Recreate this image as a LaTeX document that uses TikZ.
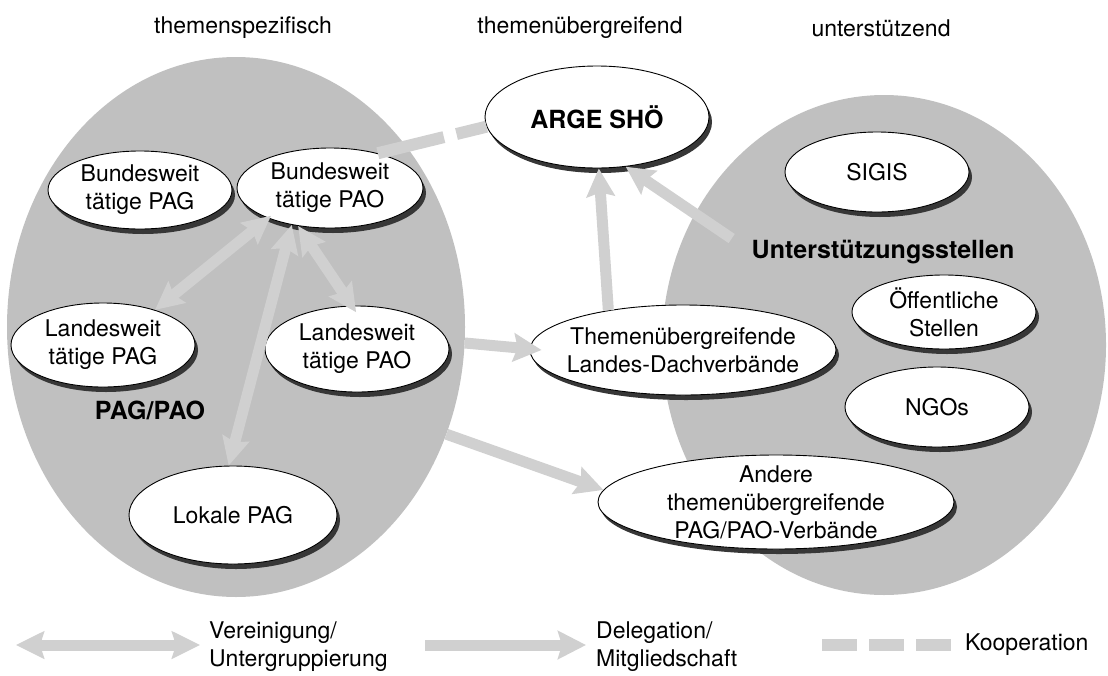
\documentclass[tikz,border=0pt]{standalone}
\usepackage{fontspec}
\setmainfont{TeX Gyre Heros}
\usetikzlibrary{shapes.geometric,arrows.meta,shadows,calc}
\definecolor{bggray}{RGB}{192,192,192}
\definecolor{arrgray}{RGB}{208,208,208}
\definecolor{shadowgray}{RGB}{55,55,55}
\begin{document}
\begin{tikzpicture}[x=1pt,y=-1pt,
  txt/.style={font=\fontsize{23}{28}\selectfont, inner sep=0pt, align=center},
  boldtxt/.style={font=\bfseries\fontsize{25}{30}\selectfont, inner sep=0pt},
  bigell/.style={ellipse, fill=bggray, inner sep=0pt},
  org/.style={ellipse, draw=black, line width=0.9pt, fill=white, inner sep=0pt,
    drop shadow={shadow xshift=3pt, shadow yshift=-5pt, fill=shadowgray, opacity=1}},
  assoc/.style={draw=arrgray, line width=11pt, {Stealth[length=28pt,width=27pt,inset=4pt]}-{Stealth[length=28pt,width=27pt,inset=4pt]}},
  deleg/.style={draw=arrgray, line width=11pt, -{Stealth[length=28pt,width=28pt,inset=4pt]}},
  koop/.style={draw=arrgray, line width=12pt, dash pattern=on 68pt off 13pt on 60pt off 0pt}
]
\useasboundingbox (0,0) rectangle (1108,675);

% headers
\node[txt] (h1) at (243,28) {themenspezifisch};
\node[txt] (h2) at (580,28) {themenübergreifend};
\node[txt] (h3) at (881,28) {unterstützend};

% big grey areas
\node[bigell, minimum width=458pt, minimum height=540pt] (lg) at (236,327) {};
\node[bigell, minimum width=444pt, minimum height=500pt] (rg) at (884,345) {};

% organisation ellipses
\node[org, minimum width=184pt, minimum height=78pt] (bpag) at (140,190) {};
\node[txt] (bpag-t) at (bpag) {Bundesweit\\tätige PAG};
\node[org, minimum width=186pt, minimum height=80pt] (bpao) at (330,188) {};
\node[txt] (bpao-t) at (bpao) {Bundesweit\\tätige PAO};
\node[org, minimum width=184pt, minimum height=84pt] (lpag) at (103,345) {};
\node[txt] (lpag-t) at (lpag) {Landesweit\\tätige PAG};
\node[org, minimum width=184pt, minimum height=86pt] (lpao) at (357,349) {};
\node[txt] (lpao-t) at (lpao) {Landesweit\\tätige PAO};
\node[boldtxt] (pagpao) at (150,410) {PAG/PAO};
\node[org, minimum width=208pt, minimum height=98pt] (lok) at (233,515) {};
\node[txt] (lok-t) at (lok) {Lokale PAG};

\node[org, minimum width=224pt, minimum height=102pt] (arge) at (597,117) {};
\node[boldtxt] (arge-t) at (arge) {ARGE SHÖ};
\node[org, minimum width=306pt, minimum height=90pt] (themen) at (683,350) {};
\node[txt] (themen-t) at (themen) {Themenübergreifende\\Landes-Dachverbände};
\node[org, minimum width=356pt, minimum height=94pt] (andere) at (776,502) {};
\node[txt] (andere-t) at (andere) {Andere\\themenübergreifende\\PAG/PAO-Verbände};

\node[org, minimum width=184pt, minimum height=80pt] (sigis) at (877,172) {};
\node[txt] (sigis-t) at (sigis) {SIGIS};
\node[boldtxt] (ust) at (883,252) {Unterstützungsstellen};
\node[org, minimum width=184pt, minimum height=74pt] (oeff) at (944,312) {};
\node[txt] (oeff-t) at (oeff) {Öffentliche\\Stellen};
\node[org, minimum width=184pt, minimum height=80pt] (ngo) at (937,407) {};
\node[txt] (ngo-t) at (ngo) {NGOs};

% connectors
\draw[koop] (bpao.36) -- (arge.185);
\draw[assoc, shorten <=-4pt] (bpao.206) -- (lpag.34);
\draw[assoc, shorten >=-8pt] (bpao.230) -- (lpao.97);
\draw[assoc] (bpao.224) -- (lok.95);
\draw[deleg] (lg.-4) -- ($(themen.west)+(12,0)$);
\draw[deleg] (lg.-27) -- (andere.176);
\draw[deleg] (themen.152) -- (arge.272);
\draw[deleg, shorten <=24pt] (ust.west) -- (arge.300);

% legend
\coordinate (la1) at (16,645);
\coordinate (la2) at (200,645);
\draw[assoc] (la1) -- (la2);
\node[txt, anchor=west, align=left] (l1) at (209,647) {Vereinigung/\\Untergruppierung};
\coordinate (lb1) at (425,645);
\coordinate (lb2) at (586,645);
\draw[deleg] (lb1) -- (lb2);
\node[txt, anchor=west, align=left] (l2) at (596,647) {Delegation/\\Mitgliedschaft};
\coordinate (lc1) at (822,645);
\coordinate (lc2) at (951,645);
\draw[koop, dash pattern=on 35pt off 12pt] (lc1) -- (lc2);
\node[txt, anchor=west] (l3) at (965,645) {Kooperation};
\end{tikzpicture}
\end{document}
